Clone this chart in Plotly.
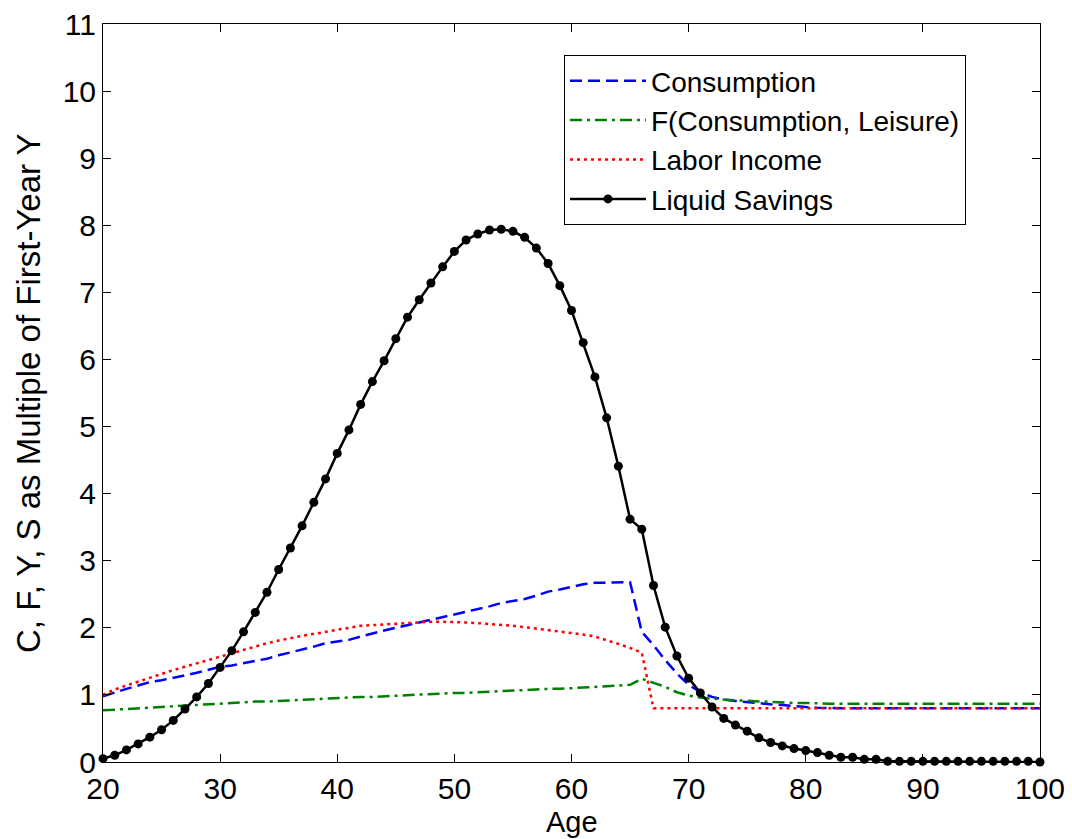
import plotly.graph_objects as go

ages = list(range(20, 101))

consumption = [0.98, 1.04, 1.09, 1.14, 1.19, 1.22, 1.25, 1.29, 1.33, 1.38,
               1.42, 1.44, 1.47, 1.50, 1.54, 1.59, 1.63, 1.67, 1.72, 1.77,
               1.79, 1.82, 1.87, 1.92, 1.96, 2.00, 2.04, 2.08, 2.12, 2.15,
               2.19, 2.24, 2.27, 2.32, 2.37, 2.40, 2.43, 2.48, 2.54, 2.57,
               2.61, 2.65, 2.67, 2.67, 2.67, 2.68, 1.94, 1.74, 1.52, 1.32,
               1.15, 1.04, 0.97, 0.93, 0.91, 0.89, 0.87, 0.86, 0.85, 0.83,
               0.82, 0.81, 0.80, 0.80, 0.80, 0.80, 0.80, 0.80, 0.80, 0.80,
               0.80, 0.80, 0.80, 0.80, 0.80, 0.80, 0.80, 0.80, 0.80, 0.80,
               0.80]

f_cons_leisure = [0.77, 0.78, 0.79, 0.81, 0.82, 0.83, 0.84, 0.85, 0.86, 0.87,
                  0.88, 0.88, 0.89, 0.90, 0.90, 0.91, 0.92, 0.93, 0.94, 0.95,
                  0.96, 0.96, 0.97, 0.97, 0.98, 0.99, 1.00, 1.00, 1.01, 1.02,
                  1.03, 1.03, 1.04, 1.05, 1.05, 1.06, 1.07, 1.08, 1.09, 1.09,
                  1.10, 1.11, 1.12, 1.13, 1.14, 1.15, 1.24, 1.18, 1.12, 1.04,
                  0.99, 0.96, 0.94, 0.93, 0.92, 0.91, 0.90, 0.89, 0.89, 0.88,
                  0.88, 0.87, 0.87, 0.87, 0.87, 0.87, 0.87, 0.87, 0.87, 0.87,
                  0.87, 0.87, 0.87, 0.87, 0.87, 0.87, 0.87, 0.87, 0.87, 0.87,
                  0.87]

labor_income = [1.00, 1.08, 1.14, 1.20, 1.26, 1.32, 1.37, 1.42, 1.47, 1.53,
                1.58, 1.63, 1.68, 1.73, 1.77, 1.81, 1.85, 1.88, 1.91, 1.94,
                1.97, 2.00, 2.03, 2.04, 2.05, 2.07, 2.07, 2.08, 2.09, 2.09,
                2.09, 2.08, 2.07, 2.06, 2.05, 2.03, 2.01, 1.99, 1.97, 1.95,
                1.92, 1.90, 1.87, 1.82, 1.76, 1.70, 1.63, 0.80, 0.80, 0.80,
                0.80, 0.80, 0.80, 0.80, 0.80, 0.80, 0.80, 0.80, 0.80, 0.80,
                0.80, 0.80, 0.80, 0.80, 0.80, 0.80, 0.80, 0.80, 0.80, 0.80,
                0.80, 0.80, 0.80, 0.80, 0.80, 0.80, 0.80, 0.80, 0.80, 0.80,
                0.80]

liquid_savings = [0.05, 0.10, 0.18, 0.27, 0.37, 0.48, 0.62, 0.79, 0.97, 1.17,
                  1.41, 1.66, 1.94, 2.23, 2.53, 2.87, 3.19, 3.52, 3.87, 4.22,
                  4.60, 4.95, 5.33, 5.67, 5.98, 6.31, 6.63, 6.89, 7.14, 7.38,
                  7.61, 7.78, 7.87, 7.93, 7.94, 7.91, 7.82, 7.66, 7.43, 7.10,
                  6.73, 6.25, 5.74, 5.13, 4.41, 3.62, 3.47, 2.63, 2.01, 1.58,
                  1.25, 1.03, 0.82, 0.65, 0.55, 0.46, 0.36, 0.29, 0.24, 0.20,
                  0.17, 0.14, 0.10, 0.07, 0.07, 0.04, 0.04, 0.01, 0.01, 0.01,
                  0.01, 0.01, 0.01, 0.01, 0.01, 0.01, 0.01, 0.01, 0.01, 0.01,
                  0.00]

x_ticks = [20, 30, 40, 50, 60, 70, 80, 90, 100]
y_ticks = list(range(0, 12))

FONT = "Liberation Sans, Arial, sans-serif"

fig = go.Figure()
fig.add_trace(go.Scatter(x=ages, y=consumption, mode="lines", name="Consumption",
                         line=dict(color="#0000ff", width=2.5, dash="12px,6px")))
fig.add_trace(go.Scatter(x=ages, y=f_cons_leisure, mode="lines",
                         name="F(Consumption, Leisure)",
                         line=dict(color="#008000", width=2.5, dash="12px,5px,3px,5px")))
fig.add_trace(go.Scatter(x=ages, y=labor_income, mode="lines", name="Labor Income",
                         line=dict(color="#ff0000", width=2.5, dash="3px,4px")))
fig.add_trace(go.Scatter(x=ages, y=liquid_savings, mode="lines+markers",
                         name="Liquid Savings", cliponaxis=False,
                         line=dict(color="black", width=2.5),
                         marker=dict(color="black", size=9, symbol="circle")))

fig.update_layout(
    width=1072, height=839,
    margin=dict(l=103, r=32, t=24, b=77, autoexpand=False),
    paper_bgcolor="white", plot_bgcolor="white",
    font=dict(family=FONT, size=29, color="black"),
    showlegend=True,
    legend=dict(x=0.921, y=0.958, xanchor="right", yanchor="top",
                bgcolor="white", bordercolor="black", borderwidth=1,
                font=dict(family=FONT, size=28, color="black"),
                itemwidth=76, tracegroupgap=0),
    xaxis=dict(range=[20, 100], tickvals=x_ticks, ticktext=[str(v) for v in x_ticks],
               showgrid=False, zeroline=False, showline=True, linecolor="black",
               linewidth=1, mirror="ticks", ticks="inside", ticklen=8,
               tickcolor="black", tickfont=dict(size=30), automargin=False),
    yaxis=dict(range=[0, 11], tickvals=y_ticks, ticktext=[str(v) for v in y_ticks],
               showgrid=False, zeroline=False, showline=True, linecolor="black",
               linewidth=1, mirror="ticks", ticks="inside", ticklen=8,
               tickcolor="black", tickfont=dict(size=30), automargin=False),
    annotations=[
        dict(text="Age", xref="paper", yref="paper", x=0.5, y=-0.0813,
             xanchor="center", yanchor="middle", showarrow=False,
             font=dict(size=29)),
        dict(text="C, F, Y, S as Multiple of First-Year Y", xref="paper", yref="paper",
             x=-0.080, y=0.5, xanchor="center", yanchor="middle", showarrow=False,
             textangle=-90, font=dict(size=33)),
    ],
)

# remove the browser's default 8px body margin so the figure fills the window
fig.write_html("out.html",
               config={"displayModeBar": False},
               post_script="document.body.style.margin='0';document.body.style.overflow='hidden';")
